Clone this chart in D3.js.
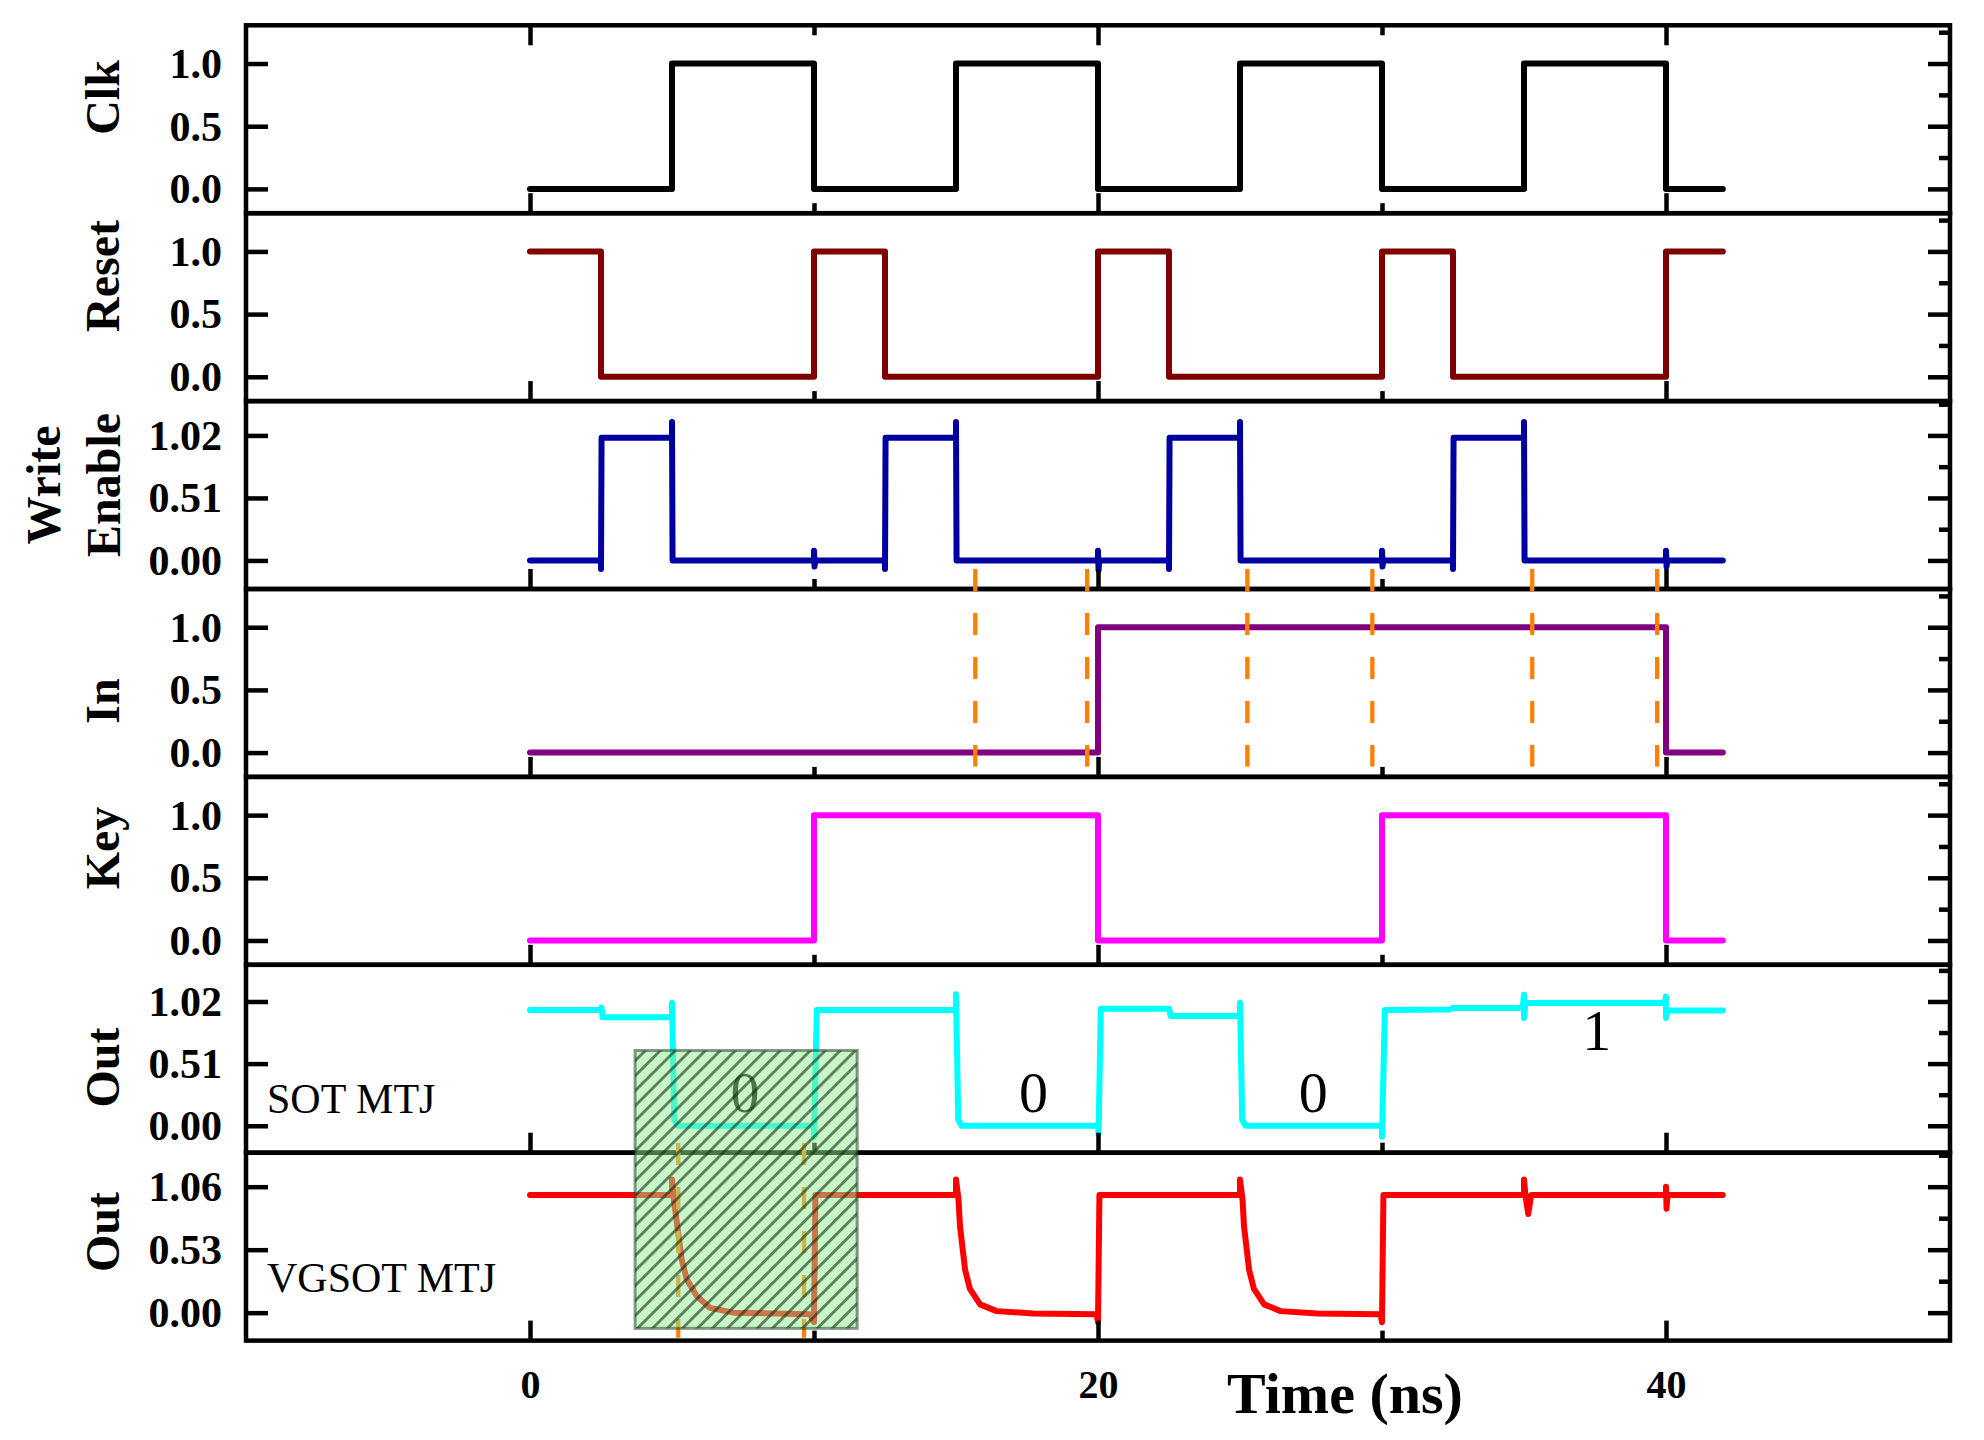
<!DOCTYPE html>
<html><head><meta charset="utf-8">
<script src="https://cdn.jsdelivr.net/npm/d3@7"></script>
<style>html,body{margin:0;padding:0;background:#fff}</style>
</head><body>
<svg id="c" width="1984" height="1440"></svg>
<script>
// ---------- data ----------
const panelTitles = [["Clk"],["Reset"],["Write","Enable"],["In"],["Key"],["Out"],["Out"]];
const panelColors = ["#000000","#800000","#0000A0","#800080","#FF00FF","#00FFFF","#FF0000"];
const yDomains = [[-0.194,1.305],[-0.194,1.305],[-0.233,1.30],[-0.194,1.305],[-0.194,1.305],[-0.221,1.321],[-0.235,1.346]];
const yTickValues = [[0,0.5,1.0],[0,0.5,1.0],[0,0.51,1.02],[0,0.5,1.0],[0,0.5,1.0],[0,0.51,1.02],[0,0.53,1.06]];
const yTickFormats = [".1f",".1f",".2f",".1f",".1f",".2f",".2f"];
const xDomain = [-10,50];
const xMajorTicks = [0,20,40];
const xMinorTicks = [10,30];

const clk = [[0,0],[5,0],[5,1],[10,1],[10,0],[15,0],[15,1],[20,1],[20,0],[25,0],[25,1],[30,1],[30,0],[35,0],[35,1],[40,1],[40,0],[42,0]];
const reset = [[0,1],[2.5,1],[2.5,0],[10,0],[10,1],[12.5,1],[12.5,0],[20,0],[20,1],[22.5,1],[22.5,0],[30,0],[30,1],[32.5,1],[32.5,0],[40,0],[40,1],[42,1]];
const writeEnable = [[0,0],[2.5,0],[2.5,-0.07],[2.52,1.0],[5,1.0],[5,1.13],[5.02,0],[10,0],[10,0.08],[10.02,-0.05],[10.04,0],
  [12.5,0],[12.5,-0.07],[12.52,1.0],[15,1.0],[15,1.13],[15.02,0],[20,0],[20,0.08],[20.02,-0.08],[20.04,0],
  [22.5,0],[22.5,-0.07],[22.52,1.0],[25,1.0],[25,1.13],[25.02,0],[30,0],[30,0.08],[30.02,-0.05],[30.04,0],
  [32.5,0],[32.5,-0.07],[32.52,1.0],[35,1.0],[35,1.13],[35.02,0],[40,0],[40,0.08],[40.02,-0.05],[40.04,0],[42,0]];
const inSig = [[0,0],[20,0],[20,1],[40,1],[40,0],[42,0]];
const key = [[0,0],[10,0],[10,1],[20,1],[20,0],[30,0],[30,1],[40,1],[40,0],[42,0]];
const outSOT = [[0,0.95],[2.5,0.95],[2.52,0.97],[2.56,0.89],[5,0.89],[5,1.01],[5.08,0.05],[5.2,0],[10,0],[10,-0.09],[10.1,0.95],
  [15,0.95],[15,1.08],[15.08,0.05],[15.2,0],[20,0],[20.02,-0.07],[20.1,0.96],[22.5,0.96],[22.56,0.9],
  [25,0.9],[25,1.01],[25.08,0.05],[25.2,0],[30,0],[30,-0.09],[30.1,0.95],[32.4,0.955],[32.5,0.966],
  [34.95,0.966],[35,1.075],[35,0.884],[35.05,1.007],[39.95,1.007],[40,1.06],[40,0.884],[40.05,0.946],[42,0.946]];
const outVGSOT = [[0,0.99],[5,0.99],[5,1.12],[5.05,0.98],[5.22,0.67],[5.34,0.45],[5.52,0.28],[5.87,0.14],[6.34,0.04],[7.16,0.0],[9.86,-0.014],
  [10,-0.08],[10.05,0.99],[15,0.99],[15,1.12],[15.09,0.95],[15.14,0.73],[15.32,0.36],[15.49,0.2],[15.85,0.07],[16.43,0.013],[17.72,-0.006],[19.95,-0.014],
  [20,-0.08],[20.05,0.99],[25,0.99],[25,1.12],[25.09,0.95],[25.14,0.73],[25.32,0.36],[25.49,0.2],[25.85,0.07],[26.43,0.013],[27.72,-0.006],[29.95,-0.014],
  [30,-0.08],[30.05,0.99],[35,0.99],[35,1.12],[35.05,0.99],[35.15,0.83],[35.25,0.99],[40,0.99],[40,1.06],[40.02,0.875],[40.05,0.99],[42,0.99]];
const series = [clk, reset, writeEnable, inSig, key, outSOT, outVGSOT];

// dashed markers: times, [panel, value] start and end
const dashTimesIn = [15.68,19.62,25.26,29.66,35.29,39.69];
const dashInStart = [2,-0.07], dashInEnd = [3,-0.112];
const dashTimesBox = [5.22,9.65];
const dashBoxStart = [5,-0.142], dashBoxEnd = [6,-0.21];
// highlight box: t range, top [panel,value], bottom [panel,value]
const boxT = [3.70,11.52];
const boxTop = [5,0.618], boxBottom = [6,-0.132];
// state labels in SOT panel
const stateLabels = [["0",7.57,0.115],["0",17.73,0.115],["0",27.58,0.115],["1",37.56,0.618]];
// device labels: panel, text, baseline value
const deviceLabels = [[5,"SOT MTJ",0.104],[6,"VGSOT MTJ",0.173]];

// ---------- layout ----------
const svg = d3.select("#c");
const left = 246, right = 1950, top0 = 25.3, ph = 187.9;
const serif = "'Liberation Serif','Times New Roman',serif";
const bw = 4.5;
const x = d3.scaleLinear().domain(xDomain).range([left,right]);
const ys = yDomains.map((d,i)=>d3.scaleLinear().domain(d).range([top0+(i+1)*ph, top0+i*ph]));
const titleY = [97.5,276,485,701,848,1067.5,1232];

const gLines = svg.append("g"), gAxes = svg.append("g");

ys.forEach((y,i)=>{
  const ptop = top0+i*ph, pbot = ptop+ph;
  gLines.append("path").datum(series[i])
    .attr("d", d3.line().x(d=>x(d[0])).y(d=>y(d[1])))
    .attr("fill","none").attr("stroke",panelColors[i]).attr("stroke-width",6)
    .attr("stroke-linejoin","round").attr("stroke-linecap","round");
  const la = gAxes.append("g").attr("transform",`translate(${left},0)`)
    .call(d3.axisLeft(y).tickValues(yTickValues[i]).tickFormat(d3.format(yTickFormats[i])).tickSize(-22).tickPadding(24));
  la.select(".domain").remove();
  la.selectAll("line").attr("stroke-width",bw).attr("stroke","#000");
  la.selectAll("text").attr("font-family",serif).attr("font-weight","bold").attr("font-size",42).attr("fill","#000").attr("dy","0.33em");
  const ra = gAxes.append("g").attr("transform",`translate(${right},0)`)
    .call(d3.axisRight(y).tickValues(yTickValues[i]).tickFormat("").tickSize(-22));
  ra.select(".domain").remove();
  ra.selectAll("line").attr("stroke-width",bw);
  const step = yTickValues[i][1]-yTickValues[i][0];
  const minors = [-0.5,0.5,1.5,2.5].map(k=>yTickValues[i][0]+k*step).filter(v=>v>y.domain()[0]&&v<y.domain()[1]);
  const rm = gAxes.append("g").attr("transform",`translate(${right},0)`)
    .call(d3.axisRight(y).tickValues(minors).tickFormat("").tickSize(-11));
  rm.select(".domain").remove();
  rm.selectAll("line").attr("stroke-width",bw);
  [[xMajorTicks,-20],[xMinorTicks,-10]].forEach(([tv,len])=>{
    const ba = gAxes.append("g").attr("transform",`translate(0,${pbot})`)
      .call(d3.axisBottom(x).tickValues(tv).tickFormat("").tickSize(len));
    ba.select(".domain").remove();
    ba.selectAll("line").attr("stroke-width",bw);
    if(i===0){
      const ta = gAxes.append("g").attr("transform",`translate(0,${ptop})`)
        .call(d3.axisTop(x).tickValues(tv).tickFormat("").tickSize(len));
      ta.select(".domain").remove();
      ta.selectAll("line").attr("stroke-width",bw);
    }
  });
  gAxes.append("rect").attr("x",left).attr("y",ptop).attr("width",right-left).attr("height",ph)
    .attr("fill","none").attr("stroke","#000").attr("stroke-width",bw);
  const t = panelTitles[i];
  const xs = t.length===1 ? [119] : [60,120];
  t.forEach((s,k)=>{
    svg.append("text").attr("transform",`translate(${xs[k]},${titleY[i]}) rotate(-90)`)
      .attr("text-anchor","middle").attr("font-family",serif).attr("font-weight","bold").attr("font-size",48).text(s);
  });
});

const xl = svg.append("g").attr("transform",`translate(0,${top0+7*ph})`)
  .call(d3.axisBottom(x).tickValues(xMajorTicks).tickFormat(d3.format("d")).tickSize(0).tickPadding(0));
xl.select(".domain").remove();
xl.selectAll("text").attr("font-family",serif).attr("font-weight","bold").attr("font-size",40).attr("fill","#000")
  .attr("dy",null).attr("y",57);
svg.append("text").attr("x",1345).attr("y",1413).attr("text-anchor","middle").attr("font-family",serif)
  .attr("font-weight","bold").attr("font-size",58).text("Time (ns)");

deviceLabels.forEach(([p,txt,v])=>{
  svg.append("text").attr("x",267).attr("y",ys[p](v)).attr("font-family",serif).attr("font-size",42).text(txt);
});
stateLabels.forEach(([txt,t,v])=>{
  svg.append("text").attr("x",x(t)).attr("y",ys[5](v)).attr("text-anchor","middle")
    .attr("font-family",serif).attr("font-size",58).text(txt);
});

function dashLines(times,s,e){
  times.forEach(t=>{
    svg.append("line").attr("x1",x(t)).attr("x2",x(t)).attr("y1",ys[s[0]](s[1])).attr("y2",ys[e[0]](e[1]))
      .attr("stroke","#FF8000").attr("stroke-width",4.3).attr("stroke-dasharray","22,22");
  });
}
dashLines(dashTimesIn,dashInStart,dashInEnd);
dashLines(dashTimesBox,dashBoxStart,dashBoxEnd);

const defs = svg.append("defs");
const pat = defs.append("pattern").attr("id","hatch").attr("patternUnits","userSpaceOnUse")
  .attr("width",10.6).attr("height",10.6).attr("patternTransform","rotate(45)");
pat.append("rect").attr("x",0).attr("y",0).attr("width",2.8).attr("height",10.6).attr("fill","rgba(20,40,20,0.6)");
const bx0 = x(boxT[0]), bx1 = x(boxT[1]);
const by0 = ys[boxTop[0]](boxTop[1]), by1 = ys[boxBottom[0]](boxBottom[1]);
svg.append("rect").attr("x",bx0).attr("y",by0).attr("width",bx1-bx0).attr("height",by1-by0)
  .attr("fill","rgb(144,238,144)").attr("fill-opacity",0.5);
svg.append("rect").attr("x",bx0).attr("y",by0).attr("width",bx1-bx0).attr("height",by1-by0)
  .attr("fill","url(#hatch)");
svg.append("rect").attr("x",bx0).attr("y",by0).attr("width",bx1-bx0).attr("height",by1-by0)
  .attr("fill","none").attr("stroke","rgba(40,70,40,0.55)").attr("stroke-width",3);
</script>
</body></html>
